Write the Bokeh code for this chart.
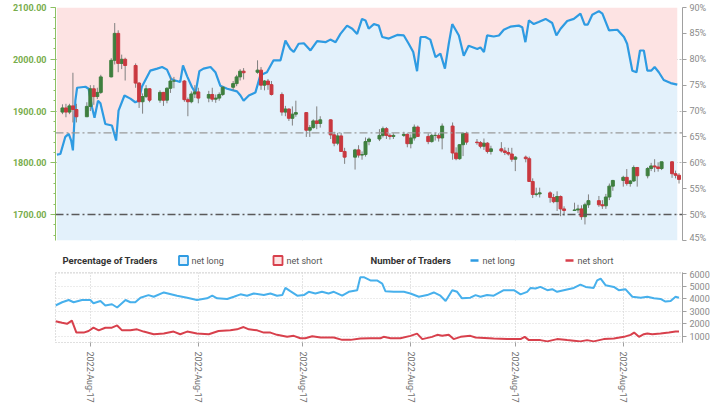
import numpy as np
import pandas as pd
from bokeh.plotting import figure
from bokeh.models import (Range1d, LinearAxis, FixedTicker, NumeralTickFormatter,
                          PrintfTickFormatter, Span)
from bokeh.layouts import column
from bokeh.embed import file_html
from bokeh.resources import INLINE
from bokeh.core.properties import value

FONT = "Roboto"
BASE = pd.Timestamp("2022-03-01")   # day 0 of the x axis

# ---------------- price candles (XAU/USD, daily) ----------------
dates = ["2022-02-21","2022-02-22","2022-02-23","2022-02-24","2022-02-25","2022-02-28",
         "2022-03-01","2022-03-02","2022-03-03","2022-03-04","2022-03-07","2022-03-08","2022-03-09",
         "2022-03-10","2022-03-11","2022-03-14","2022-03-15","2022-03-16","2022-03-17","2022-03-18",
         "2022-03-21","2022-03-22","2022-03-23","2022-03-24","2022-03-25","2022-03-28","2022-03-29",
         "2022-03-30","2022-03-31","2022-04-01","2022-04-04","2022-04-05","2022-04-06","2022-04-07",
         "2022-04-08","2022-04-11","2022-04-12","2022-04-13","2022-04-14","2022-04-18","2022-04-19",
         "2022-04-20","2022-04-21","2022-04-22","2022-04-25","2022-04-26","2022-04-27","2022-04-28",
         "2022-04-29","2022-05-02","2022-05-03","2022-05-04","2022-05-05","2022-05-06","2022-05-09",
         "2022-05-10","2022-05-11","2022-05-12","2022-05-13","2022-05-16","2022-05-17","2022-05-18",
         "2022-05-19","2022-05-20","2022-05-23","2022-05-24","2022-05-25","2022-05-26","2022-05-27",
         "2022-05-30","2022-05-31","2022-06-01","2022-06-02","2022-06-03","2022-06-06","2022-06-07",
         "2022-06-08","2022-06-09","2022-06-10","2022-06-13","2022-06-14","2022-06-15","2022-06-16",
         "2022-06-17","2022-06-20","2022-06-21","2022-06-22","2022-06-23","2022-06-24","2022-06-27",
         "2022-06-28","2022-06-29","2022-06-30","2022-07-01","2022-07-04","2022-07-05","2022-07-06",
         "2022-07-07","2022-07-08","2022-07-11","2022-07-12","2022-07-13","2022-07-14","2022-07-15",
         "2022-07-18","2022-07-19","2022-07-20","2022-07-21","2022-07-22","2022-07-25","2022-07-26",
         "2022-07-27","2022-07-28","2022-07-29","2022-08-01","2022-08-02","2022-08-03","2022-08-04",
         "2022-08-05","2022-08-08","2022-08-09","2022-08-10","2022-08-11","2022-08-12","2022-08-15",
         "2022-08-16","2022-08-17"]
opens = [1898,1906,1898,1910,1903,1889,
         1909,1943,1928,1936,1966,1998,2050,1992,2000,1988,1954,1918,1928,1943,
         1921,1936,1921,1944,1958,1958,1922,1918,1933,1937,1925,1932,1923,1925,
         1932,1946,1953,1966,1977,1975,1979,1950,1958,1951,1932,1898,1904,1886,
         1894,1897,1863,1868,1881,1876,1883,1854,1838,1852,1822,1811,1825,1815,
         1816,1841,1846,1853,1866,1853,1851,1853,1855,1837,1848,1869,1851,1841,
         1853,1853,1848,1871,1819,1808,1835,1857,1840,1839,1832,1838,1822,1827,
         1823,1820,1817,1807,1811,1808,1764,1739,1740,1742,1733,1725,1735,1711,
         1708,1709,1711,1696,1719,1727,1719,1717,1734,1755,1766,1772,1760,1765,
         1791,1775,1789,1794,1792,1789,1802,1779,1776]
highs = [1913,1914,1914,1974,1914,1917,
         1950,1950,1945,1970,2002,2070,2056,2009,2003,1992,1956,1934,1950,1944,
         1940,1937,1946,1966,1966,1960,1926,1938,1950,1945,1939,1945,1932,1936,
         1948,1958,1970,1981,1983,1998,1985,1960,1962,1958,1936,1910,1905,1909,
         1920,1898,1873,1884,1909,1890,1884,1860,1858,1858,1829,1827,1834,1822,
         1849,1849,1865,1870,1869,1857,1857,1860,1857,1855,1874,1872,1857,1856,
         1858,1857,1876,1878,1830,1836,1858,1860,1846,1842,1847,1840,1833,1840,
         1830,1829,1829,1813,1814,1812,1770,1752,1752,1745,1740,1745,1737,1716,
         1723,1719,1718,1723,1739,1736,1728,1740,1760,1767,1775,1788,1767,1795,
         1792,1792,1800,1807,1801,1802,1803,1785,1780]
lows = [1894,1888,1894,1878,1878,1889,
        1900,1912,1923,1933,1965,1990,1975,1981,1959,1945,1906,1895,1925,1917,
        1916,1910,1915,1935,1944,1918,1890,1915,1925,1915,1917,1918,1916,1920,
        1929,1940,1948,1959,1961,1972,1941,1940,1941,1930,1891,1890,1881,1872,
        1889,1850,1850,1866,1865,1868,1846,1832,1834,1821,1798,1787,1810,1806,
        1812,1834,1842,1849,1846,1845,1846,1850,1830,1828,1843,1850,1836,1839,
        1843,1841,1826,1806,1805,1806,1813,1835,1835,1828,1825,1818,1816,1820,
        1815,1814,1802,1784,1801,1763,1732,1735,1733,1723,1722,1707,1697,1698,
        1707,1703,1690,1681,1713,1715,1711,1711,1728,1746,1754,1756,1754,1763,
        1754,1770,1784,1782,1783,1786,1771,1770,1760]
closes = [1906,1898,1910,1903,1889,1909,
          1943,1928,1936,1966,1998,2050,1992,2000,1988,1954,1918,1928,1943,1921,
          1936,1921,1944,1958,1958,1922,1918,1933,1937,1925,1932,1923,1925,1932,
          1946,1953,1966,1977,1974,1979,1950,1958,1951,1932,1898,1904,1886,1894,
          1897,1863,1868,1881,1876,1883,1854,1838,1852,1822,1811,1825,1815,1816,
          1841,1846,1853,1866,1853,1851,1853,1855,1837,1848,1869,1851,1841,1853,
          1853,1848,1871,1819,1808,1835,1857,1840,1839,1832,1838,1822,1827,1823,
          1820,1817,1807,1811,1808,1764,1739,1740,1742,1733,1725,1735,1711,1708,
          1709,1711,1696,1719,1727,1719,1717,1734,1755,1766,1772,1760,1765,1791,
          1775,1789,1794,1792,1789,1802,1779,1776,1768]

# ---------------- % of traders net long (days since 2022-03-01) ----------------
sent_day = [-9.6,-8.6,-7.2,-6.2,-5.5,-5.0,-4.3,-3.8,-1.4,-0.5,0.5,1.2,2.2,2.9,4.3,6.2,7.4,8.1,
            9.8,11.5,12.9,13.9,14.8,17.2,19.2,20.6,22.0,23.2,24.4,25.8,26.6,27.8,29.2,30.2,
            31.3,32.5,34.5,35.9,37.3,39.3,42.1,43.1,44.0,45.5,47.4,48.8,50.7,52.6,54.6,56.0,
            57.4,58.4,59.8,61.3,63.2,65.1,67.5,68.9,70.4,71.8,73.7,75.2,76.6,78.0,79.0,79.9,
            81.4,82.8,83.8,85.7,88.1,90.0,91.4,92.7,93.8,94.8,96.2,97.6,99.1,100.5,101.8,
            102.9,103.9,105.8,107.2,108.6,111.1,112.0,113.0,113.9,115.8,117.3,118.7,120.6,
            123.0,124.0,124.9,125.9,127.3,128.7,130.7,132.6,133.8,135.0,136.9,138.8,140.7,
            141.9,142.8,144.1,146.0,147.0,148.9,151.3,153.2,154.1,155.6,156.8,157.8,158.9,
            159.9,161.0,162.0,163.2,164.6,166.6,168.5]
sent_pct = [61.6,61.7,65.0,65.6,64.3,62.4,72.0,74.5,74.7,74.3,70.7,68.7,72.0,71.5,67.5,67.2,64.3,70.1,
            73.0,72.4,71.7,72.0,74.7,77.8,78.2,78.5,78.0,76.2,75.9,75.6,78.8,76.7,74.6,73.5,
            77.7,78.2,78.5,77.5,74.9,74.3,73.8,73.0,72.0,73.0,73.6,76.9,77.5,79.8,79.8,83.6,
            82.0,81.4,83.0,83.1,81.7,83.5,83.3,83.8,83.3,84.9,86.5,85.9,84.9,87.8,87.5,85.9,
            86.8,86.5,84.3,84.0,84.7,84.6,83.0,81.4,77.7,84.3,84.3,83.8,80.4,81.1,78.2,
            83.0,86.8,84.6,80.7,82.6,82.0,82.3,81.4,84.6,84.4,84.6,85.7,86.3,
            86.5,86.2,83.3,87.5,86.8,87.2,87.8,87.0,84.6,85.9,87.4,87.8,88.8,
            86.7,86.7,88.6,89.3,88.8,85.6,85.7,84.3,83.0,77.8,77.5,81.7,81.7,
            77.8,77.8,78.5,77.5,76.0,75.4,75.1]

# ---------------- number of traders (days since 2022-03-01) ----------------
long_day = [-10.0,-8.1,-6.2,-4.8,-2.4,0.0,0.9,2.9,4.3,6.2,7.7,10.1,11.5,12.9,14.4,16.7,18.2,21.1,
            24.9,27.8,30.6,33.5,35.0,36.4,39.3,41.2,43.1,45.0,46.9,49.8,51.7,53.6,55.1,56.0,
            57.4,59.4,61.3,62.7,64.6,66.5,68.4,69.9,72.3,74.2,76.6,77.5,78.5,80.4,82.3,83.8,
            84.7,87.1,90.0,91.9,94.3,96.7,98.6,100.5,102.0,103.9,105.3,106.7,109.1,110.6,
            112.0,113.9,115.8,118.7,121.6,123.5,125.4,126.4,127.8,129.2,131.2,132.6,134.0,
            135.9,138.8,140.7,142.2,144.5,145.5,146.5,147.9,150.3,151.7,153.6,155.6,158.0,
            159.9,161.8,163.7,165.1,166.6,168.0,169.0]
long_cnt = [3450,3710,3890,3710,3890,3890,3630,3810,3450,3550,3290,3890,3710,3710,4070,4280,4150,4490,
            4230,4070,3890,4020,4230,4020,3970,4150,4340,4230,4410,4280,4410,4230,4280,4850,
            4590,4230,4280,4540,4410,4540,4410,4540,4230,4540,4670,5710,5710,5450,5450,5200,
            4590,4540,4540,4410,4150,4280,4490,4230,3810,4670,4540,4020,4070,4280,
            4150,4280,4230,4670,4670,4340,4540,4850,4800,4930,4670,4750,4540,
            4670,4850,5120,4930,4850,5450,5590,5070,4930,4670,4750,4150,4070,
            4150,4020,3970,3760,3810,4150,4070]
short_day = [-10.0,-8.1,-6.7,-5.3,-4.0,-1.9,-0.5,0.9,2.4,4.3,6.2,7.7,9.1,11.5,13.4,15.3,18.2,21.1,
             23.9,25.8,27.8,30.6,34.0,36.8,40.2,42.1,44.0,45.5,47.9,49.8,51.7,53.6,56.5,58.4,
             60.3,61.7,63.7,66.1,69.9,72.3,74.7,77.5,80.4,83.3,84.2,86.2,89.0,91.9,93.8,95.3,
             98.1,99.6,101.0,102.9,104.3,106.3,109.1,110.6,115.8,119.7,123.5,124.7,125.9,
             129.2,131.2,134.0,136.9,138.8,140.7,142.6,144.5,147.4,150.3,153.2,155.1,156.1,
             157.5,158.9,159.9,161.3,163.7,166.1,168.0,169.0]
short_cnt = [2200,2070,1990,2250,1290,1290,1420,1680,1470,1680,1680,1860,1470,1470,1550,1370,1160,1210,
             1370,1160,1370,1210,1160,1420,1470,1550,1730,1550,1470,1290,1290,1110,950,1030,
             840,840,1000,900,900,710,710,820,840,840,950,840,840,1030,1210,770,
             950,1110,1030,1110,770,950,1030,900,820,770,770,950,690,
             690,590,770,690,640,590,690,590,770,820,950,1110,1290,
             950,1160,1210,1160,1210,1290,1370,1370]

month_starts = ["2022-03-01","2022-04-01","2022-05-01","2022-06-01","2022-07-01","2022-08-01"]
tick_label = "2022-Aug-17"
level_main = 1700     # dark dash-dot reference level
level_second = 1858   # light dash-dot reference level

# ---------------- derived ----------------
x = (pd.to_datetime(dates) - BASE).days.values.astype(float)
o = np.array(opens, float); h = np.array(highs, float)
l = np.array(lows, float); c = np.array(closes, float)
up = c >= o
month_ticks = [int(v) for v in (pd.to_datetime(month_starts) - BASE).days]
x_lo, x_hi = -10.0, 170.0

GREEN_TXT = "#78ad4c"
GRID = "#b8b8b8"
BLUE = "#2e9be2"
RED = "#d8404c"
LIGHT_BLUE = "#e3f1fb"
LIGHT_RED = "#fde3e3"
W = 720
BL, BR = 55, 38          # frame spans x = 55 .. 682

# ---------------- top panel ----------------
top = figure(width=W, height=242, x_range=Range1d(x_lo, x_hi), y_range=Range1d(1650, 2100),
             x_axis_location=None, output_backend="svg", toolbar_location=None,
             min_border_left=BL, min_border_right=BR, min_border_top=7, min_border_bottom=2)
top.extra_y_ranges = {"pct": Range1d(45, 90)}
top.background_fill_color = "white"
top.outline_line_color = None

top.varea(x=sent_day, y1=45, y2=sent_pct, y_range_name="pct", fill_color=LIGHT_BLUE)
top.varea(x=sent_day, y1=sent_pct, y2=90, y_range_name="pct", fill_color=LIGHT_RED)

top.ygrid.ticker = FixedTicker(ticks=[1650, 1700, 1800, 1900, 2000, 2100])
top.ygrid.grid_line_color = GRID
top.ygrid.grid_line_dash = "2 2"
top.xgrid.ticker = FixedTicker(ticks=month_ticks)
top.xgrid.grid_line_color = "#c8c8c8"
top.xgrid.grid_line_dash = "1 2"

top.add_layout(Span(location=level_main, dimension="width", line_color="#5a5a5a",
                    line_width=1.5, line_dash="8 3 2 3"))
top.add_layout(Span(location=level_second, dimension="width", line_color="#9a9a9a",
                    line_width=1.2, line_dash="8 3 2 3"))

top.line(x=sent_day, y=sent_pct, y_range_name="pct", line_color=BLUE, line_width=2.2)

top.segment(x0=x, y0=h, x1=x, y1=l, line_color="#808080", line_width=1)
top.vbar(x=x[up], bottom=o[up], top=c[up], width=0.85, fill_color="#3f7f3f", line_color="#3f7f3f")
top.vbar(x=x[~up], bottom=c[~up], top=o[~up], width=0.85, fill_color="#c9383f", line_color="#c9383f")

ly = top.yaxis[0]
ly.ticker = FixedTicker(ticks=[1700, 1800, 1900, 2000, 2100],
                        minor_ticks=list(range(1660, 2101, 20)))
ly.formatter = NumeralTickFormatter(format="0.00")
ly.axis_line_color = "#8cc063"
ly.major_tick_line_color = "#8cc063"
ly.minor_tick_line_color = "#8cc063"
ly.major_tick_out = 5
ly.major_tick_in = 0
ly.minor_tick_out = 2
ly.minor_tick_in = 0
ly.major_label_standoff = 4
ly.major_label_text_color = GREEN_TXT
ly.major_label_text_font = FONT
ly.major_label_text_font_size = "9px"
ly.major_label_text_font_style = "bold"

ry = LinearAxis(y_range_name="pct", ticker=FixedTicker(ticks=list(range(45, 91, 5))),
                formatter=PrintfTickFormatter(format="%d%%"))
ry.axis_line_color = "#a0a0a0"
ry.major_tick_line_color = "#a0a0a0"
ry.major_tick_out = 4
ry.major_tick_in = 0
ry.minor_tick_line_color = None
ry.major_label_standoff = 3
ry.major_label_text_color = "#8a8a8a"
ry.major_label_text_font = FONT
ry.major_label_text_font_size = "9px"
top.add_layout(ry, "right")

# ---------------- legend row (x in page pixels, frame aligned to 55..682) ----------------
leg = figure(width=W, height=28, x_range=Range1d(55, 682), y_range=Range1d(0, 28),
             x_axis_location=None, y_axis_location=None, output_backend="svg",
             toolbar_location=None, min_border_left=BL, min_border_right=BR,
             min_border_top=0, min_border_bottom=0)
leg.grid.visible = False
leg.outline_line_color = None
LY = 10
def ltext(xp, s, bold=False):
    leg.text(x=[xp], y=[LY], text=[s], text_font=value(FONT),
             text_font_size="9.5px" if bold else "9px",
             text_font_style="bold" if bold else "normal",
             text_color="#333333" if bold else "#555555", text_baseline="middle")
ltext(62, "Percentage of Traders", True)
leg.rect(x=[183], y=[LY], width=9, height=9, fill_color=LIGHT_BLUE, line_color=BLUE, line_width=1.8)
ltext(191, "net long")
leg.rect(x=[277.5], y=[LY], width=9, height=9, fill_color=LIGHT_RED, line_color=RED, line_width=1.8)
ltext(286, "net short")
ltext(370, "Number of Traders", True)
leg.segment(x0=[470], y0=[LY], x1=[478], y1=[LY], line_color=BLUE, line_width=2.5)
ltext(482, "net long")
leg.segment(x0=[565], y0=[LY], x1=[573], y1=[LY], line_color=RED, line_width=2.5)
ltext(577, "net short")

# ---------------- bottom panel ----------------
bot = figure(width=W, height=135, x_range=top.x_range, y_range=Range1d(500, 6080),
             y_axis_location="right", output_backend="svg", toolbar_location=None,
             min_border_left=BL, min_border_right=BR, min_border_top=2, min_border_bottom=2)
bot.outline_line_color = "#c0c0c0"
bot.outline_line_dash = "1 2"
bot.ygrid.ticker = FixedTicker(ticks=[1000, 2000, 3000, 4000, 5000, 6000])
bot.ygrid.grid_line_color = "#d8d8d8"
bot.ygrid.grid_line_dash = "1 2"
bot.xgrid.ticker = FixedTicker(ticks=month_ticks)
bot.xgrid.grid_line_color = "#c8c8c8"
bot.xgrid.grid_line_dash = "1 2"

bot.line(x=long_day, y=long_cnt, line_color="#47b0ec", line_width=2)
bot.line(x=short_day, y=short_cnt, line_color=RED, line_width=2)

by = bot.yaxis[0]
by.ticker = FixedTicker(ticks=[1000, 2000, 3000, 4000, 5000, 6000])
by.axis_line_color = "#a0a0a0"
by.major_tick_line_color = "#a0a0a0"
by.major_tick_out = 4
by.major_tick_in = 0
by.minor_tick_line_color = None
by.major_label_standoff = 3
by.major_label_text_color = "#8a8a8a"
by.major_label_text_font = FONT
by.major_label_text_font_size = "9px"

bx = bot.xaxis[0]
bx.ticker = FixedTicker(ticks=month_ticks)
bx.major_label_overrides = {t: tick_label for t in month_ticks}
bx.major_label_orientation = "vertical"
bx.axis_line_color = None
bx.major_tick_line_color = "#a0a0a0"
bx.major_tick_out = 4
bx.major_tick_in = 0
bx.minor_tick_line_color = None
bx.major_label_text_color = "#6e6e6e"
bx.major_label_text_font = FONT
bx.major_label_text_font_size = "9px"

layout = column(top, leg, bot, spacing=0)
open("out.html", "w").write(file_html(layout, INLINE))
